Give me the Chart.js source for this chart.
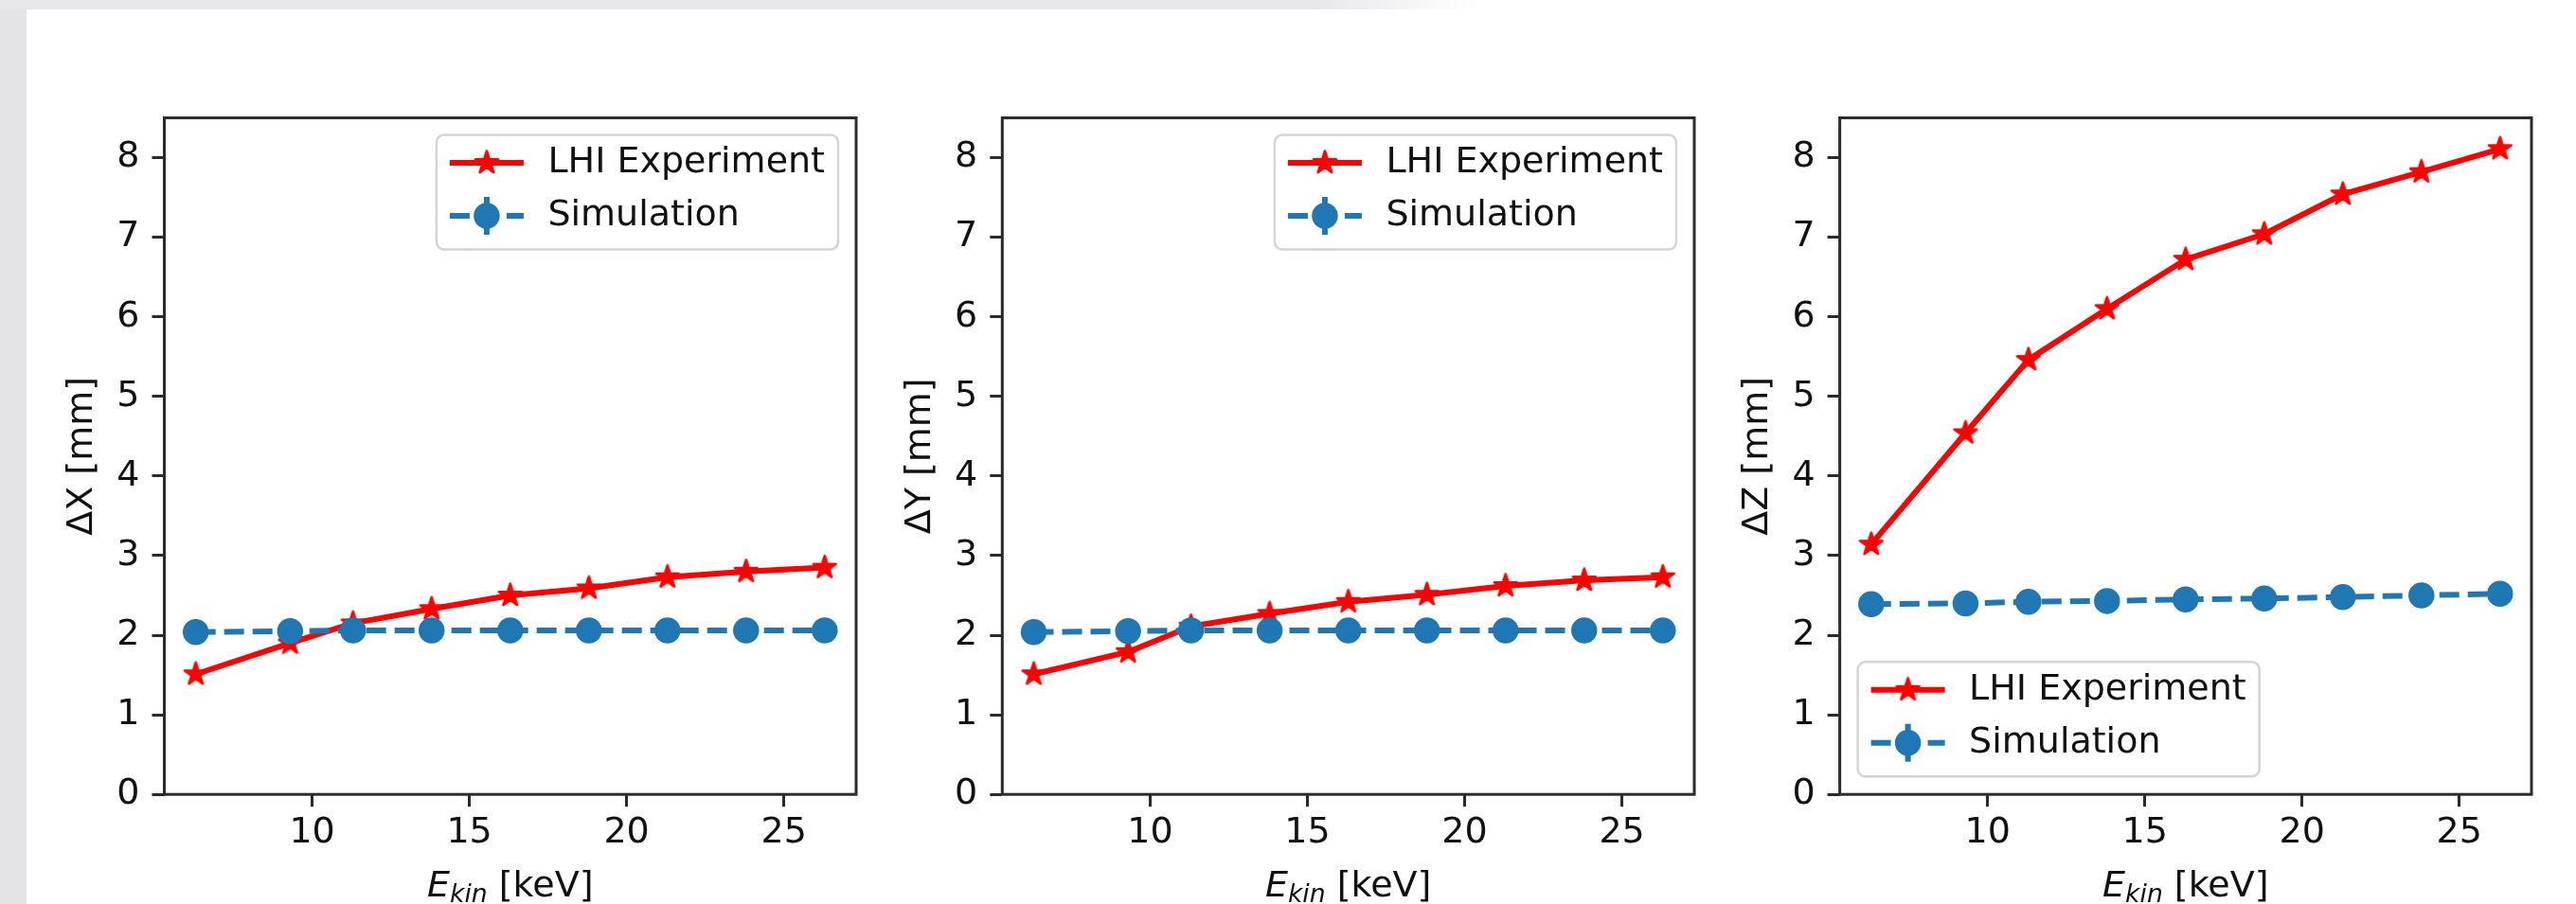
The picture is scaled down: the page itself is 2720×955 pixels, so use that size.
<!DOCTYPE html>
<html>
<head>
<meta charset="utf-8">
<script src="https://cdn.jsdelivr.net/npm/chart.js@4"></script>
<style>
  html, body { margin: 0; padding: 0; width: 2720px; height: 955px; overflow: hidden; background: #fff; }
  #leftStrip { position: absolute; left: 0; top: 0; width: 28px; height: 955px; background: #e4e4e6; }
  #topStrip { position: absolute; left: 0; top: 0; width: 1560px; height: 10px;
              background: linear-gradient(to right, #e6e6e9 0, #e6e6e9 1380px, #ffffff 1560px); }
  canvas { position: absolute; top: 0; }
</style>
</head>
<body>
<div id="leftStrip"></div>
<div id="topStrip"></div>
<canvas id="c0"></canvas>
<canvas id="c1"></canvas>
<canvas id="c2"></canvas>
<script>
// values
const energy = [6.3, 9.3, 11.3, 13.8, 16.3, 18.8, 21.3, 23.8, 26.3];
const lhiX = [1.51, 1.90, 2.15, 2.33, 2.50, 2.59, 2.73, 2.80, 2.85];
const simX = [2.04, 2.05, 2.06, 2.06, 2.06, 2.06, 2.06, 2.06, 2.06];
const lhiY = [1.51, 1.79, 2.11, 2.27, 2.42, 2.51, 2.62, 2.69, 2.73];
const simY = [2.04, 2.05, 2.06, 2.06, 2.06, 2.06, 2.06, 2.06, 2.06];
const lhiZ = [3.14, 4.54, 5.46, 6.10, 6.72, 7.04, 7.54, 7.82, 8.11];
const simZ = [2.39, 2.40, 2.42, 2.43, 2.45, 2.46, 2.48, 2.50, 2.52];
const xTicks = [10, 15, 20, 25];
const yTicks = [0, 1, 2, 3, 4, 5, 6, 7, 8];
const seriesNames = ['LHI Experiment', 'Simulation'];
const yTitles = ['ΔX [mm]', 'ΔY [mm]', 'ΔZ [mm]'];

Chart.defaults.font.family = '"DejaVu Sans", sans-serif';
Chart.defaults.color = '#111';

const FONT = 38;
const INK = '#2b2b2b';
const frameTop = 124.5, frameBottom = 839.2, frameW = 737;
const frameLefts = [173.5, 1058.3, 1942.6];
const legendCorner = ['ur', 'ur', 'll'];

// filled 5-point star, like matplotlib's '*' marker
function makeStar(color) {
  const c = document.createElement('canvas');
  c.width = 34; c.height = 34;
  const g = c.getContext('2d');
  g.beginPath();
  for (let k = 0; k < 10; k++) {
    const r = k % 2 === 0 ? 12.5 : 4.8;
    const a = -Math.PI / 2 + k * Math.PI / 5;
    const px = 17 + r * Math.cos(a), py = 17 + r * Math.sin(a);
    if (k) g.lineTo(px, py); else g.moveTo(px, py);
  }
  g.closePath();
  g.fillStyle = color; g.fill();
  g.lineWidth = 2.5; g.lineJoin = 'round'; g.strokeStyle = color; g.stroke();
  return c;
}
const star = makeStar('#ff0000');

const framePlugin = {
  id: 'frame',
  afterDatasetsDraw(chart) {
    const { ctx, chartArea: a } = chart;
    ctx.save();
    ctx.strokeStyle = INK; ctx.lineWidth = 3;
    ctx.strokeRect(a.left, a.top, a.right - a.left, a.bottom - a.top);
    ctx.restore();
  }
};

// matplotlib-style legend drawn inside the plot area
const boxLegend = {
  id: 'boxLegend',
  afterDraw(chart, args, opts) {
    const { ctx, chartArea: a } = chart;
    const sets = chart.data.datasets;
    ctx.save();
    ctx.font = `${FONT}px "DejaVu Sans"`;
    const textOff = 117.5;
    const tw = Math.max(...sets.map(d => ctx.measureText(d.label).width));
    const w = textOff + tw + 14, h = 121, pad = 19;
    const x0 = opts.corner === 'll' ? a.left + pad : a.right - pad - w;
    const y0 = opts.corner === 'll' ? a.bottom - pad - h : a.top + pad - 1;
    ctx.beginPath();
    ctx.roundRect(x0, y0, w, h, 8);
    ctx.fillStyle = 'rgba(255,255,255,0.8)'; ctx.fill();
    ctx.lineWidth = 2.5; ctx.strokeStyle = '#d4d4d4'; ctx.stroke();
    const rows = [29.5, 85.5];
    sets.forEach((d, i) => {
      const cy = y0 + rows[i], hx0 = x0 + 14, hx1 = x0 + 92, hc = (hx0 + hx1) / 2;
      ctx.save();
      ctx.strokeStyle = d.borderColor; ctx.lineWidth = d.borderWidth;
      ctx.setLineDash(d.borderDash || []);
      ctx.beginPath(); ctx.moveTo(hx0, cy); ctx.lineTo(hx1, cy); ctx.stroke();
      ctx.setLineDash([]);
      if (d.legendErrorBar) {
        ctx.beginPath(); ctx.moveTo(hc, cy - 20); ctx.lineTo(hc, cy + 20); ctx.stroke();
      }
      if (d.pointStyle instanceof HTMLCanvasElement) {
        ctx.drawImage(d.pointStyle, hc - d.pointStyle.width / 2, cy - d.pointStyle.height / 2);
      } else {
        ctx.beginPath(); ctx.arc(hc, cy, d.pointRadius + 0.75, 0, 2 * Math.PI);
        ctx.fillStyle = d.pointBackgroundColor; ctx.fill();
      }
      ctx.restore();
      ctx.fillStyle = '#111'; ctx.textBaseline = 'middle'; ctx.textAlign = 'left';
      ctx.fillText(d.label, x0 + textOff, cy);
    });
    ctx.restore();
  }
};

// x axis title with mathtext-like E_kin
const xTitle = {
  id: 'xTitle',
  afterDraw(chart) {
    const { ctx, chartArea: a } = chart;
    const parts = [
      { t: 'E', f: `italic ${FONT}px "DejaVu Sans"`, dy: 0 },
      { t: 'kin', f: `italic ${FONT * 0.7}px "DejaVu Sans"`, dy: 6 },
      { t: ' [keV]', f: `${FONT}px "DejaVu Sans"`, dy: 0 }
    ];
    ctx.save();
    let total = 0;
    parts.forEach(p => { ctx.font = p.f; p.w = ctx.measureText(p.t).width; total += p.w; });
    let x = (a.left + a.right) / 2 - total / 2;
    const base = 947;
    ctx.fillStyle = '#111'; ctx.textBaseline = 'alphabetic'; ctx.textAlign = 'left';
    parts.forEach(p => { ctx.font = p.f; ctx.fillText(p.t, x, base + p.dy); x += p.w; });
    ctx.restore();
  }
};

const panels = [[lhiX, simX], [lhiY, simY], [lhiZ, simZ]];

panels.forEach(([lhi, sim], i) => {
  const L = frameLefts[i];
  const cLeft = Math.floor(L - 170);
  const yW = L - cLeft;
  const cW = Math.ceil(yW + frameW + 12);
  const canvas = document.getElementById('c' + i);
  canvas.width = cW; canvas.height = 955;
  canvas.style.left = cLeft + 'px';
  canvas.style.width = cW + 'px'; canvas.style.height = '955px';

  const tickFont = { family: '"DejaVu Sans"', size: FONT };
  new Chart(canvas, {
    type: 'line',
    data: {
      datasets: [
        {
          label: seriesNames[0],
          data: energy.map((e, k) => ({ x: e, y: lhi[k] })),
          borderColor: '#ff0000', backgroundColor: '#ff0000',
          borderWidth: 6, borderJoinStyle: 'round',
          pointStyle: star, pointRadius: 13,
          tension: 0, order: 1
        },
        {
          label: seriesNames[1],
          data: energy.map((e, k) => ({ x: e, y: sim[k] })),
          borderColor: '#1f77b4', backgroundColor: '#1f77b4',
          borderWidth: 6, borderDash: [21, 9],
          pointStyle: 'circle', pointRadius: 13, pointBorderWidth: 1.5,
          pointBackgroundColor: '#1f77b4', pointBorderColor: '#1f77b4',
          legendErrorBar: true,
          tension: 0, order: 0
        }
      ]
    },
    options: {
      responsive: false, maintainAspectRatio: false, animation: false,
      devicePixelRatio: 1, events: [],
      layout: { padding: { left: 0, top: frameTop, right: cW - yW - frameW, bottom: 0 } },
      plugins: {
        legend: { display: false },
        tooltip: { enabled: false },
        boxLegend: { corner: legendCorner[i] }
      },
      scales: {
        x: {
          type: 'linear', min: 5.3, max: 27.3,
          afterFit: s => { s.height = 955 - frameBottom; },
          afterBuildTicks: s => { s.ticks = xTicks.map(v => ({ value: v })); },
          grid: { drawOnChartArea: false, drawTicks: true, tickLength: 13, tickWidth: 3, tickColor: INK },
          border: { display: false },
          ticks: { padding: 5, color: '#111', font: tickFont, maxRotation: 0, autoSkip: false },
          title: { display: false }
        },
        y: {
          type: 'linear', min: 0, max: 8.5,
          afterFit: s => { s.width = yW; },
          afterBuildTicks: s => { s.ticks = yTicks.map(v => ({ value: v })); },
          grid: { drawOnChartArea: false, drawTicks: true, tickLength: 13, tickWidth: 3, tickColor: INK },
          border: { display: false },
          ticks: { padding: 13, color: '#111', font: tickFont, autoSkip: false },
          title: {
            display: true, text: yTitles[i], color: '#111',
            font: { family: '"DejaVu Sans"', size: FONT, lineHeight: 1.2 },
            padding: { top: yW - 86 - FONT * 0.6, bottom: 0 }
          }
        }
      }
    },
    plugins: [framePlugin, boxLegend, xTitle]
  });
});
</script>
</body>
</html>
